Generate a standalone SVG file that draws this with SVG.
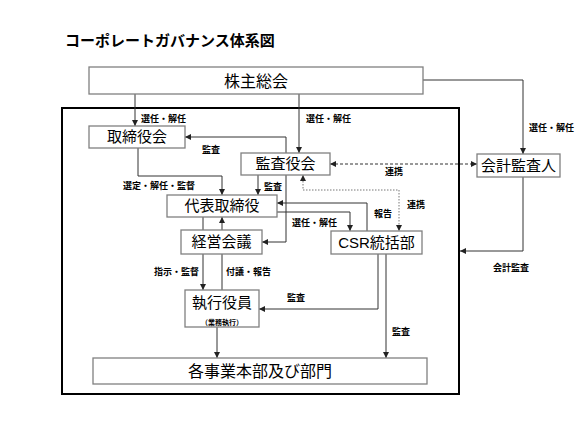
<svg xmlns="http://www.w3.org/2000/svg" width="580" height="434" viewBox="0 0 580 434">
<style>
  text { font-family: "Liberation Sans", "Noto Sans CJK JP", sans-serif; fill: #000; }
  .title { font-size: 15px; font-weight: bold; }
  .box { fill: #fff; stroke: #808080; stroke-width: 1.3; }
  .big { font-size: 15px; text-anchor: middle; }
  .lbl { font-size: 9px; font-weight: bold; }
  .c { fill: none; stroke: #333; stroke-width: 1; }
  .dash { fill: none; stroke: #333; stroke-width: 1; stroke-dasharray: 3 2; }
  .dot { fill: none; stroke: #777; stroke-width: 1; stroke-dasharray: 1.5 1.5; }
</style>
<defs>
  <marker id="ah" markerWidth="6" markerHeight="6" refX="6" refY="3" orient="auto" markerUnits="userSpaceOnUse">
    <path d="M0,0 L6,3 L0,6 z" fill="#222"/>
  </marker>
  <marker id="as" markerWidth="6" markerHeight="6" refX="0" refY="3" orient="auto" markerUnits="userSpaceOnUse">
    <path d="M6,0 L0,3 L6,6 z" fill="#222"/>
  </marker>
</defs>
<rect x="0" y="0" width="580" height="434" fill="#fff"/>
<text class="title" x="65" y="46">コーポレートガバナンス体系図</text>

<rect id="frame" x="62" y="108" width="397" height="286" fill="none" stroke="#000" stroke-width="2"/>

<g id="connectors">
  <path class="c" d="M135,94 V126" marker-end="url(#ah)"/>
  <path class="c" d="M299,94 V153" marker-end="url(#ah)"/>
  <path class="c" d="M423,80 H523 V154" marker-end="url(#ah)"/>
  <path class="c" d="M286,153 V137 H185" marker-end="url(#ah)"/>
  <path class="c" d="M138,148 V176 H222 V195" marker-end="url(#ah)"/>
  <path class="c" d="M258,175 V195" marker-end="url(#ah)"/>
  <path class="c" d="M286,175 V242 H262" marker-end="url(#ah)"/>
  <path class="c" d="M203,217 V230"/>
  <path class="c" d="M222,230 V217" marker-end="url(#ah)"/>
  <path class="c" d="M203,254 V290" marker-end="url(#ah)"/>
  <path class="c" d="M222,290 V254"/>
  <path class="c" d="M217,327 V358" marker-end="url(#ah)"/>
  <path class="c" d="M367,231 V203 H277" marker-end="url(#ah)"/>
  <path class="c" d="M277,212 H350 V231" marker-end="url(#ah)"/>
  <path class="c" d="M378,254 V309 H259" marker-end="url(#ah)"/>
  <path class="c" d="M386,254 V358" marker-end="url(#ah)"/>
  <path class="dash" d="M330,164 H477" marker-start="url(#as)" marker-end="url(#ah)"/>
  <path class="dot" d="M303,175 V190 H399 V231" marker-start="url(#as)" marker-end="url(#ah)"/>
  <path class="c" d="M523,177 V251 H460" marker-end="url(#ah)"/>
</g>

<g id="labels">
  <text class="lbl" x="141" y="122">選任・解任</text>
  <text class="lbl" x="306" y="122">選任・解任</text>
  <text class="lbl" x="529" y="131">選任・解任</text>
  <text class="lbl" x="202" y="153">監査</text>
  <text class="lbl" x="385" y="175">連携</text>
  <text class="lbl" x="123" y="189">選定・解任・監督</text>
  <text class="lbl" x="264" y="190">監査</text>
  <text class="lbl" x="374" y="217">報告</text>
  <text class="lbl" x="407" y="208">連携</text>
  <text class="lbl" x="292" y="226">選任・解任</text>
  <text class="lbl" x="493" y="271">会計監査</text>
  <text class="lbl" x="154" y="275">指示・監督</text>
  <text class="lbl" x="226" y="275">付議・報告</text>
  <text class="lbl" x="287" y="301">監査</text>
  <text class="lbl" x="392" y="335">監査</text>
</g>

<g id="kabunushi">
  <rect class="box" x="89" y="67" width="334" height="27"/>
  <text class="big" x="256" y="87" style="font-size:16px">株主総会</text>
</g>
<g id="torishimariyakukai">
  <rect class="box" x="89" y="126" width="96" height="22"/>
  <text class="big" x="137" y="142">取締役会</text>
</g>
<g id="kansayakukai">
  <rect class="box" x="241" y="153" width="89" height="22"/>
  <text class="big" x="285.5" y="169">監査役会</text>
</g>
<g id="kaikeikansanin">
  <rect class="box" x="477" y="154" width="83" height="23"/>
  <text class="big" x="518.5" y="171">会計監査人</text>
</g>
<g id="daihyo">
  <rect class="box" x="167" y="195" width="110" height="22"/>
  <text class="big" x="222" y="211">代表取締役</text>
</g>
<g id="keiei">
  <rect class="box" x="181" y="230" width="81" height="24"/>
  <text class="big" x="221.5" y="247">経営会議</text>
</g>
<g id="csr">
  <rect class="box" x="331" y="231" width="91" height="23"/>
  <text class="big" x="376.5" y="248">CSR統括部</text>
</g>
<g id="shikko">
  <rect class="box" x="185" y="290" width="74" height="37"/>
  <text class="big" x="222" y="308">執行役員</text>
  <text x="222" y="324.5" style="font-size:7px;font-weight:bold;text-anchor:middle">（業務執行）</text>
</g>
<g id="jigyo">
  <rect class="box" x="93" y="358" width="334" height="26"/>
  <text class="big" x="260" y="377" style="font-size:16px">各事業本部及び部門</text>
</g>
</svg>
